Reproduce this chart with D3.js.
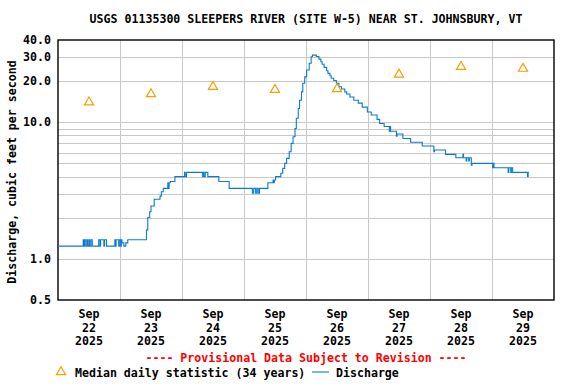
<!DOCTYPE html>
<html>
<head>
<meta charset="utf-8">
<script src="https://cdn.jsdelivr.net/npm/d3@7"></script>
<style>
  body { margin: 0; background: #fff; }
  text { font-family: "DejaVu Sans Mono", "Liberation Mono", monospace; font-weight: bold; font-size: 11.6px; fill: #000; }
</style>
</head>
<body>
<div id="chart"></div>
<script>
var title = "USGS 01135300 SLEEPERS RIVER (SITE W-5) NEAR ST. JOHNSBURY, VT";
var yTitle = "Discharge, cubic feet per second";
var notice = "---- Provisional Data Subject to Revision ----";

var days = ["09-22", "09-23", "09-24", "09-25", "09-26", "09-27", "09-28", "09-29"];
var dayLabels = ["22", "23", "24", "25", "26", "27", "28", "29"];
var medianValues = [14.0, 16.1, 18.2, 17.3, 17.5, 22.4, 25.5, 24.7];

var yGrid = [1, 2, 3, 4, 5, 6, 7, 8, 9, 10, 20, 30];
var yLabels = [0.5, 1, 10, 20, 30, 40];

// 15-minute discharge, only the points where the value changes
var discharge = [
  ["09-22 00:00", 1.24], ["09-22 09:45", 1.38], ["09-22 10:00", 1.24], ["09-22 10:15", 1.38],
  ["09-22 10:45", 1.24], ["09-22 11:15", 1.38], ["09-22 11:30", 1.24], ["09-22 12:00", 1.38],
  ["09-22 12:15", 1.24], ["09-22 12:45", 1.38], ["09-22 13:15", 1.24], ["09-22 15:45", 1.38],
  ["09-22 16:15", 1.24], ["09-22 16:30", 1.38], ["09-22 17:45", 1.24], ["09-22 18:00", 1.38],
  ["09-22 18:45", 1.24], ["09-22 22:00", 1.38], ["09-22 22:15", 1.24], ["09-22 22:30", 1.38],
  ["09-22 23:30", 1.24], ["09-22 23:45", 1.38], ["09-23 00:15", 1.24], ["09-23 00:30", 1.38],
  ["09-23 00:45", 1.31], ["09-23 01:30", 1.24], ["09-23 02:15", 1.31], ["09-23 03:00", 1.38],
  ["09-23 10:15", 1.63], ["09-23 10:45", 2.01], ["09-23 11:30", 2.21], ["09-23 12:00", 2.44],
  ["09-23 13:15", 2.73], ["09-23 15:30", 2.88], ["09-23 16:00", 3.10], ["09-23 16:45", 3.28],
  ["09-23 18:30", 3.61], ["09-23 18:45", 3.28], ["09-23 19:00", 3.61], ["09-23 19:30", 3.68],
  ["09-23 21:15", 4.00], ["09-24 01:00", 4.30], ["09-24 01:15", 4.00], ["09-24 01:45", 4.30],
  ["09-24 08:00", 4.00], ["09-24 08:15", 4.30], ["09-24 08:30", 4.00], ["09-24 09:00", 4.30],
  ["09-24 10:00", 4.00], ["09-24 14:15", 3.68], ["09-24 18:15", 3.28], ["09-25 03:15", 3.02],
  ["09-25 03:45", 3.28], ["09-25 04:30", 3.02], ["09-25 05:00", 3.28], ["09-25 05:30", 3.02],
  ["09-25 06:00", 3.28], ["09-25 09:15", 3.61], ["09-25 11:15", 3.78], ["09-25 11:30", 3.61],
  ["09-25 11:45", 3.78], ["09-25 12:15", 4.00], ["09-25 14:15", 4.23], ["09-25 15:00", 4.60],
  ["09-25 15:45", 5.00], ["09-25 16:30", 5.44], ["09-25 17:30", 6.09], ["09-25 18:15", 7.00],
  ["09-25 19:00", 7.84], ["09-25 19:45", 9.00], ["09-25 20:15", 10.7], ["09-25 21:00", 12.6],
  ["09-25 21:30", 14.5], ["09-25 22:15", 16.7], ["09-25 22:45", 19.3], ["09-25 23:30", 21.5],
  ["09-26 00:15", 24.1], ["09-26 01:15", 27.0], ["09-26 02:00", 30.2], ["09-26 02:30", 31.0],
  ["09-26 04:00", 30.3], ["09-26 05:00", 29.0], ["09-26 05:45", 27.7], ["09-26 06:15", 26.6],
  ["09-26 07:00", 25.2], ["09-26 08:00", 23.8], ["09-26 08:30", 22.8], ["09-26 09:15", 21.9],
  ["09-26 09:45", 21.0], ["09-26 10:45", 20.2], ["09-26 11:45", 19.3], ["09-26 12:45", 18.2],
  ["09-26 13:45", 17.5], ["09-26 15:00", 16.7], ["09-26 15:45", 16.1], ["09-26 17:00", 15.3],
  ["09-26 18:30", 14.5], ["09-26 20:15", 13.8], ["09-26 21:45", 12.9], ["09-26 23:45", 11.9],
  ["09-27 01:15", 11.3], ["09-27 03:30", 10.5], ["09-27 04:30", 9.80], ["09-27 06:15", 9.30],
  ["09-27 08:15", 8.60], ["09-27 08:30", 9.30], ["09-27 08:45", 8.60], ["09-27 11:00", 7.90],
  ["09-27 11:15", 8.20], ["09-27 13:30", 7.60], ["09-27 16:30", 7.13], ["09-27 21:00", 6.70],
  ["09-28 01:30", 6.10], ["09-28 01:45", 6.26], ["09-28 06:00", 5.82], ["09-28 10:00", 5.50],
  ["09-28 12:45", 5.82], ["09-28 13:00", 5.50], ["09-28 14:00", 5.20], ["09-28 14:15", 5.50],
  ["09-28 15:00", 5.20], ["09-28 15:15", 5.50], ["09-28 16:00", 4.85], ["09-28 16:15", 5.00],
  ["09-29 00:15", 4.65], ["09-29 00:30", 5.00], ["09-29 00:45", 4.65], ["09-29 06:15", 4.30],
  ["09-29 06:30", 4.65], ["09-29 07:15", 4.30], ["09-29 07:30", 4.65], ["09-29 08:00", 4.30],
  ["09-29 13:45", 4.00], ["09-29 14:00", 4.30], ["09-29 14:15", 4.30]
];

var width = 576, height = 384;
var plotLeft = 58, plotRight = 554, plotTop = 40, plotBottom = 300;

var parse = d3.timeParse("%Y-%m-%d %H:%M");
var t = function(s) { return parse("2025-" + s); };

var svg = d3.select("#chart").append("svg")
    .attr("width", width)
    .attr("height", height)
    .style("display", "block");

svg.append("rect").attr("width", width).attr("height", height).attr("fill", "#fff");

var x = d3.scaleTime()
    .domain([t("09-22 00:00"), t("09-30 00:00")])
    .range([plotLeft, plotRight]);

var y = d3.scaleLog()
    .domain([0.5, 40])
    .range([plotBottom, plotTop]);

// grid lines
var gridX = d3.axisBottom(x)
    .tickValues(days.slice(1).map(function(d) { return t(d + " 00:00"); }))
    .tickSize(-(plotBottom - plotTop))
    .tickFormat("");

svg.append("g")
    .attr("class", "gridx")
    .attr("transform", "translate(0," + plotBottom + ")")
    .call(gridX)
    .call(function(g) { g.select(".domain").remove(); })
    .selectAll("line")
    .attr("stroke", "#c8c8c8")
    .attr("shape-rendering", "crispEdges");

var gridY = d3.axisLeft(y)
    .tickValues(yGrid)
    .tickSize(-(plotRight - plotLeft))
    .tickFormat("");

svg.append("g")
    .attr("class", "gridy")
    .attr("transform", "translate(" + plotLeft + ",0)")
    .call(gridY)
    .call(function(g) { g.select(".domain").remove(); })
    .selectAll("line")
    .attr("stroke", "#c8c8c8")
    .attr("shape-rendering", "crispEdges");

// frame
svg.append("rect")
    .attr("x", plotLeft)
    .attr("y", plotTop)
    .attr("width", plotRight - plotLeft)
    .attr("height", plotBottom - plotTop)
    .attr("fill", "none")
    .attr("stroke", "#000")
    .attr("stroke-width", 1.4);

// y tick labels
svg.append("g").selectAll("text")
    .data(yLabels)
    .enter().append("text")
    .attr("x", plotLeft - 7)
    .attr("y", function(d) { return y(d); })
    .attr("dy", "0.35em")
    .attr("text-anchor", "end")
    .text(function(d) { return d3.format(".1f")(d); });

// x tick labels, three lines each
var xl = svg.append("g").selectAll("text")
    .data(days)
    .enter().append("text")
    .attr("text-anchor", "middle")
    .attr("transform", function(d) { return "translate(" + x(t(d + " 12:00")) + ",318)"; });
xl.append("tspan").attr("x", 0).attr("y", 0).text("Sep");
xl.append("tspan").attr("x", 0).attr("y", 13.5).text(function(d, i) { return dayLabels[i]; });
xl.append("tspan").attr("x", 0).attr("y", 27).text("2025");

// discharge line
var line = d3.line()
    .x(function(d) { return x(t(d[0])); })
    .y(function(d) { return y(d[1]); })
    .curve(d3.curveStepAfter);

svg.append("path")
    .datum(discharge)
    .attr("d", line)
    .attr("fill", "none")
    .attr("stroke", "#0a7bd0")
    .attr("stroke-width", 1.1);

// median triangles
var tri = d3.symbol().type(d3.symbolTriangle).size(36);

svg.append("g").selectAll("path")
    .data(medianValues)
    .enter().append("path")
    .attr("d", tri)
    .attr("transform", function(d, i) { return "translate(" + x(t(days[i] + " 12:00")) + "," + y(d) + ")"; })
    .attr("fill", "none")
    .attr("stroke", "#f5a000")
    .attr("stroke-width", 1.2);

// titles
svg.append("text")
    .attr("x", (plotLeft + plotRight) / 2)
    .attr("y", 23)
    .attr("text-anchor", "middle")
    .text(title);

svg.append("text")
    .attr("transform", "translate(16," + ((plotTop + plotBottom) / 2 + 2) + ") rotate(-90)")
    .attr("text-anchor", "middle")
    .text(yTitle);

svg.append("text")
    .attr("x", (plotLeft + plotRight) / 2)
    .attr("y", 362)
    .attr("text-anchor", "middle")
    .style("fill", "#f00")
    .text(notice);

// legend
var leg = svg.append("g").attr("transform", "translate(0,372)");
leg.append("path")
    .attr("d", tri)
    .attr("transform", "translate(61,0)")
    .attr("fill", "none")
    .attr("stroke", "#f5a000")
    .attr("stroke-width", 1.2);
leg.append("text").attr("x", 75).attr("y", 4.5).text("Median daily statistic (34 years)");
leg.append("line")
    .attr("x1", 312).attr("x2", 329)
    .attr("y1", 0).attr("y2", 0)
    .attr("stroke", "#0a7bd0")
    .attr("stroke-width", 1.1);
leg.append("text").attr("x", 336).attr("y", 4.5).text("Discharge");
</script>
</body>
</html>
